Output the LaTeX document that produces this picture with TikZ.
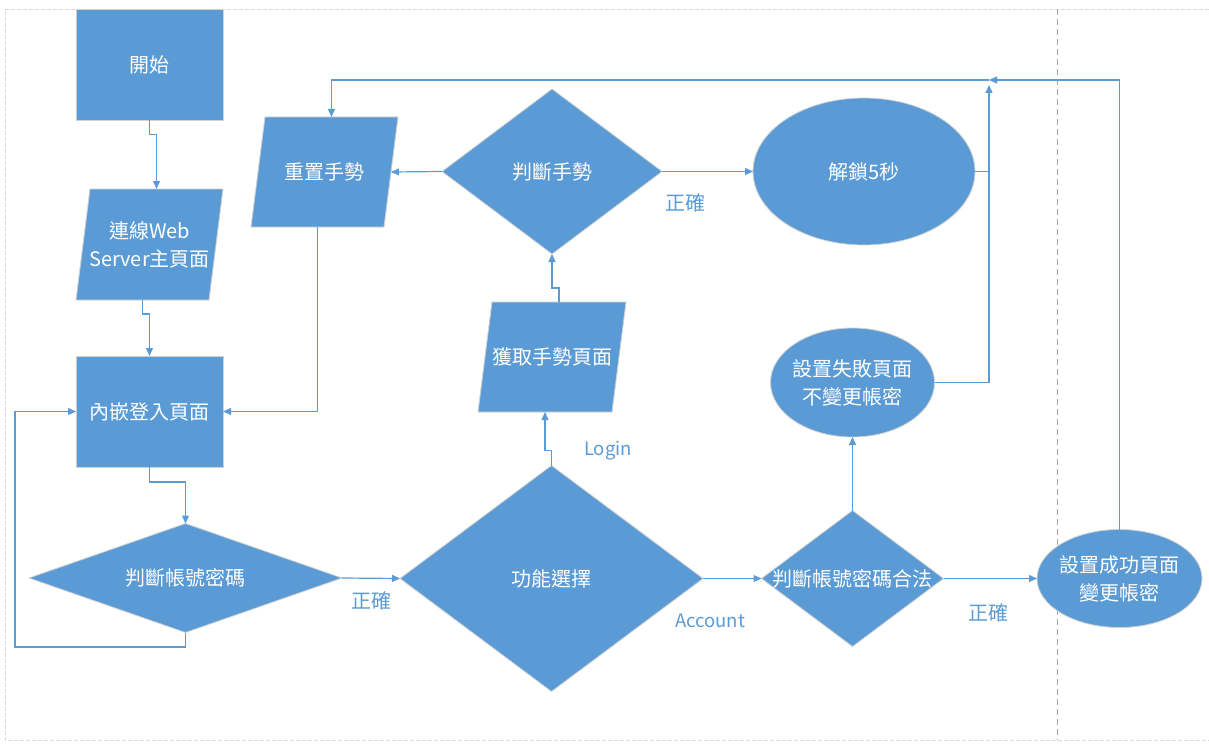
\documentclass[tikz,border=0pt]{standalone}
\usepackage{fontspec}
\setmainfont{Noto Sans CJK TC}
\usetikzlibrary{shapes.geometric,arrows.meta,calc}
\definecolor{ob}{HTML}{5B9BD5}
\definecolor{framegray}{HTML}{D9D9D9}
\definecolor{sepgray}{HTML}{A6A6A6}
\newcommand{\paraFill}[1]{\filldraw[shpline] ($(#1.north west)+(14,0)$) -- (#1.north east) -- ($(#1.south east)+(-14,0)$) -- (#1.south west) -- cycle;}
\begin{document}
\begin{tikzpicture}[x=1pt,y=-1pt,
  shpline/.style={fill=ob, draw=black!18, line width=0.8pt},
  shp/.style={shpline, inner sep=0pt, outer sep=0pt},
  txt/.style={text=white, font=\fontsize{20}{28}\selectfont, align=center, inner sep=0pt},
  box/.style={shp, rectangle, minimum width=147pt, minimum height=111pt},
  para/.style={rectangle, inner sep=0pt, outer sep=0pt, minimum width=147pt, minimum height=111pt},
  dia/.style={shp, diamond},
  ell/.style={shp, ellipse},
  lbl/.style={text=ob, font=\fontsize{20}{24}\selectfont, inner sep=0pt},
  elbl/.style={text=ob, font=\fontsize{18.5}{22}\selectfont, inner sep=0pt},
  conn/.style={draw=ob, line width=1.2pt},
  arr/.style={conn, -{Triangle[length=8pt,width=7pt]}},
  frame/.style={draw=framegray, line width=0.8pt, dash pattern=on 4pt off 2pt},
  sep/.style={draw=sepgray, line width=0.9pt, dash pattern=on 6pt off 4pt},
]
\useasboundingbox (0,0) rectangle (1209,749);
% frame
\coordinate (fTL) at (5,9);
\coordinate (fBL) at (5,740);
\coordinate (fTR) at (1215,9);
\coordinate (fBR) at (1215,740);
\draw[frame] (fTR) -- (fTL) -- (fBL) -- (fBR);
\coordinate (sT) at (1057,9);
\coordinate (sB) at (1057,740);
\draw[sep] (sT) -- (sB);

% shapes
\node[box] (start) at (149.5,65) {};
\node[para] (conn) at (149.5,244.5) {};
\paraFill{conn}
\node[box] (login) at (149.5,411.5) {};
\node[dia, minimum width=313pt, minimum height=109pt] (judge1) at (185.5,578) {};
\node[para, minimum height=110pt] (reset) at (324.5,172) {};
\paraFill{reset}
\node[dia, minimum width=220pt, minimum height=165pt] (judge2) at (552,171.5) {};
\node[ell, minimum width=222pt, minimum height=147pt] (unlock) at (864,171.5) {};
\node[para, minimum width=148pt, minimum height=110pt] (fetch) at (552,357) {};
\paraFill{fetch}
\node[dia, minimum width=303pt, minimum height=226pt] (func) at (551.5,578.5) {};
\node[ell, minimum width=164pt, minimum height=109pt] (fail) at (852.5,382.5) {};
\node[dia, minimum width=182pt, minimum height=136pt] (judge3) at (852.5,578.5) {};
\node[ell, minimum width=165pt, minimum height=98pt] (succ) at (1119.5,578.5) {};

% texts
\node[txt] (startT) at (start) {開始};
\node[txt] (connT) at (conn) {連線Web\\Server主頁面};
\node[txt] (loginT) at (login) {內嵌登入頁面};
\node[txt] (judge1T) at (judge1) {判斷帳號密碼};
\node[txt] (resetT) at (reset) {重置手勢};
\node[txt] (judge2T) at (judge2) {判斷手勢};
\node[txt] (unlockT) at (unlock) {解鎖5秒};
\node[txt] (fetchT) at (fetch) {獲取手勢頁面};
\node[txt] (funcT) at (func) {功能選擇};
\node[txt] (failT) at (fail) {設置失敗頁面\\不變更帳密};
\node[txt] (judge3T) at (judge3) {判斷帳號密碼合法};
\node[txt] (succT) at (succ) {設置成功頁面\\變更帳密};

% labels
\node[lbl] (ok1) at (371,601) {正確};
\node[lbl] (ok2) at (685,203) {正確};
\node[lbl] (ok3) at (988,613) {正確};
\node[elbl] (loginL) at (608,451) {Login};
\node[elbl] (accL) at (710,621) {Account};

% junction coordinates
\coordinate (Jtop) at (989,80);
\coordinate (Jup) at (989,85);
\coordinate (loopL) at (15,647);

% connectors
\draw[arr] (start.south) -- ++(0,14) -| ($(conn.north)+(7,0)$);
\draw[arr] ($(conn.south)+(-7,0)$) -- ++(0,14) -| (login.north);
\draw[arr] (login.south) -- ++(0,15) -| (judge1.north);
\draw[arr] (judge1.south) |- (loopL) |- (login.west);
\draw[arr] (judge1.east) -- (func.west);
\draw[arr] (func.east) -- (judge3.west);
\draw[arr] (func.north) -- ++(0,-15) -| ($(fetch.south)+(-7,0)$);
\draw[arr] ($(fetch.north)+(7,0)$) -- ++(0,-14) -| (judge2.south);
\draw[arr] (judge2.west) -- ($(reset.east)+(-7,0)$);
\draw[arr] (judge2.east) -- (unlock.west);
\draw[arr] ($(reset.south)+(-7,0)$) |- (login.east);
\draw[arr] (unlock.east) -| (Jup);
\draw[conn] (fail.east) -| (unlock.east -| Jup);
\draw[arr] (succ.north) |- (Jtop);
\draw[arr] (Jtop) -| ($(reset.north)+(7,0)$);
\draw[arr] (judge3.north) -- (fail.south);
\draw[arr] (judge3.east) -- (succ.west);
\end{tikzpicture}
\end{document}
